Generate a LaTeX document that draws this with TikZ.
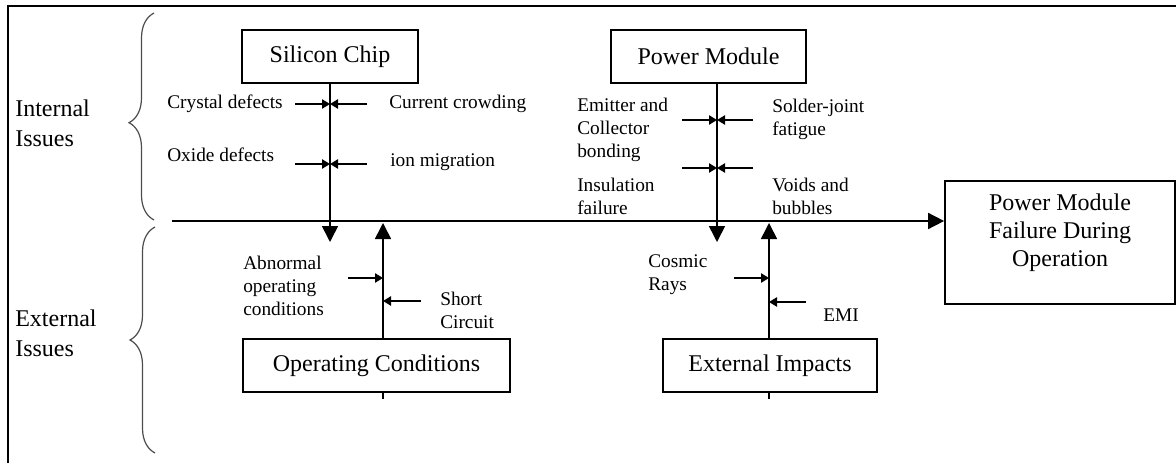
\documentclass[tikz,border=0pt]{standalone}
\usepackage{fontspec}
\setmainfont{Liberation Serif}
\usetikzlibrary{arrows.meta,decorations.pathreplacing}
\begin{document}
\begin{tikzpicture}[x=0.75pt,y=-0.75pt]
	\tikzstyle{block} = [rectangle, draw, line width=1.3pt, inner sep=0pt, font=\fontsize{18}{21}\selectfont, align=center]
	\tikzstyle{cause} = [anchor=west, inner sep=0pt, font=\fontsize{14.5}{17.25}\selectfont, align=left]
	\tikzstyle{group} = [anchor=west, inner sep=0pt, font=\fontsize{18}{22.5}\selectfont, align=left]
	\tikzstyle{spine} = [line width=1.2pt, -{Triangle[length=12pt,width=12pt]}]
	\tikzstyle{hit} = [line width=1.1pt, -{Triangle[length=6pt,width=7pt]}]
	\tikzstyle{curly} = [decorate, draw=black!70, line width=0.9pt]

	\useasboundingbox (0,0) rectangle (1176,463);
	\draw[line width=1.5pt] (8,463) -- (8,6) -- (1176,6);

	% fish bone boxes
	\foreach \name/\x/\y/\w/\txt in {chip/330/56.5/176/Silicon Chip, pm/708.5/56.5/195/Power Module, opc/376.5/365.5/267/Operating Conditions, ext/770/365.5/214/External Impacts}
		\node[block, minimum width={0.75pt*\w}, minimum height=39.75pt] (\name) at (\x, \y) {\txt};

	\node[block, minimum width=172.5pt, minimum height=92.25pt] (fail) at (1060, 242.5) {};
	\node[font=\fontsize{18}{21}\selectfont, align=center] (failtext) at (1060, 233) {Power Module\\Failure During\\Operation};

	% issue groups
	\node[group] (internal) at (15, 123) {Internal\\Issues};
	\node[group] (external) at (15, 333) {External\\Issues};
	\draw[curly, decoration={brace, amplitude=18.75pt, aspect=0.47}] (154, 220) -- (154, 13);
	\draw[curly, decoration={brace, amplitude=18.75pt, aspect=0.5}] (155, 453) -- (155, 227);

	% causes
	\node[cause] (crystal) at (167, 104) {Crystal defects};
	\node[cause] (oxide) at (167, 155) {Oxide defects};
	\node[cause] (crowding) at (389, 104) {Current crowding};
	\node[cause] (ion) at (390, 162) {ion migration};
	\node[cause] (emitter) at (577, 130) {Emitter and\\Collector\\bonding};
	\node[cause] (insulation) at (577, 196) {Insulation\\failure};
	\node[cause] (solder) at (772, 119) {Solder-joint\\fatigue};
	\node[cause] (voids) at (772, 196) {Voids and\\bubbles};
	\node[cause] (abnormal) at (243, 286) {Abnormal\\operating\\conditions};
	\node[cause] (short) at (440, 310) {Short\\Circuit};
	\node[cause] (cosmic) at (648, 275) {Cosmic\\Rays};
	\node[cause] (emi) at (823, 315) {EMI};

	% spines
	\coordinate (s1) at (330, 242);
	\coordinate (s2) at (383, 223);
	\coordinate (s3) at (717, 242);
	\coordinate (s4) at (769, 223);
	\coordinate (head) at (172, 221);
	\draw[spine] (head) -- (head -| fail.west);
	\draw[spine] (s1 |- chip.south) -- (s1);
	\draw[spine] (s3 |- pm.south) -- (s3);
	\draw[spine] (s2 |- opc.north) -- (s2);
	\draw[spine] (s4 |- ext.north) -- (s4);
	\draw[line width=1pt] (s2 |- opc.south) -- ++(0, 6);
	\draw[line width=1pt] (s4 |- ext.south) -- ++(0, 6);

	\foreach \n/\x/\y in {c1/295/104, c2/367/104, c3/295/164, c4/367/164, p1/682/120, p2/753/120, p3/682/168, p4/753/168, o1/348/278, o2/421/301, e1/734/278, e2/806/302}
		\coordinate (\n) at (\x, \y);
	\foreach \n/\s in {c1/s1, c2/s1, c3/s1, c4/s1, p1/s3, p2/s3, p3/s3, p4/s3, o1/s2, o2/s2, e1/s4, e2/s4}
		\draw[hit] (\n) -- (\n -| \s);
\end{tikzpicture}
\end{document}
